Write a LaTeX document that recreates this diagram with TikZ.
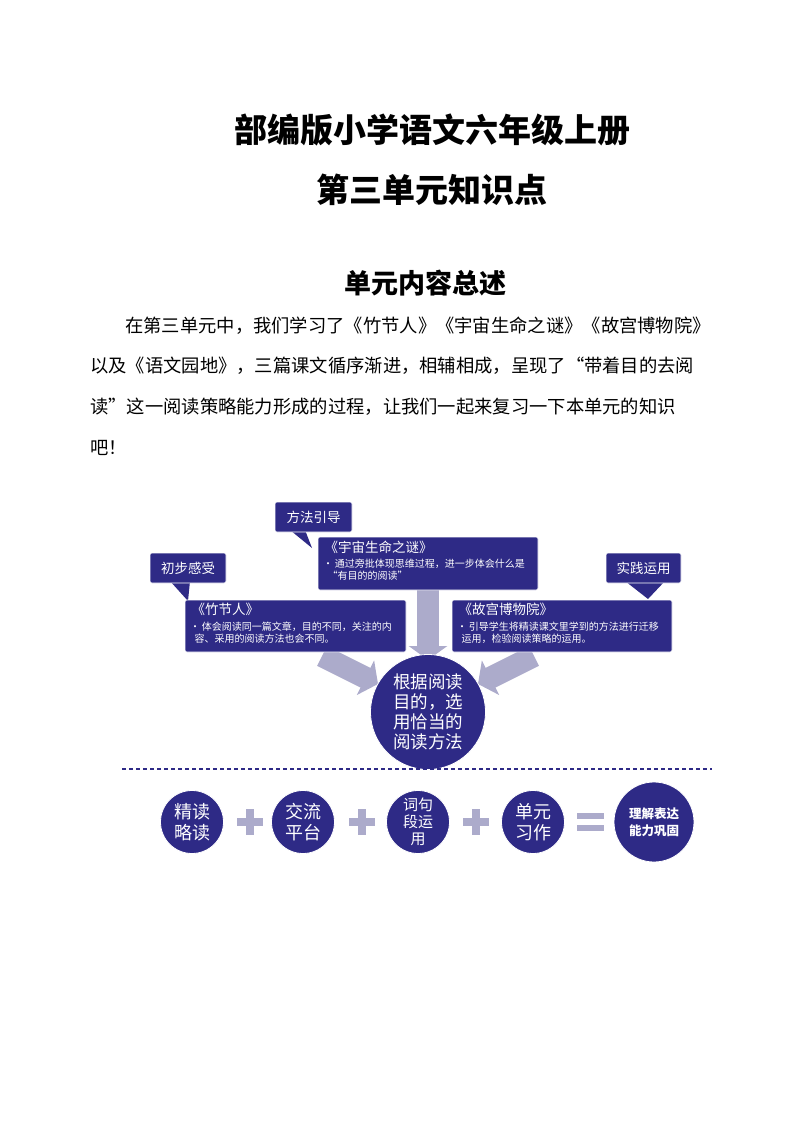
\documentclass[tikz,border=0pt]{standalone}
\usepackage{fontspec}
\setmainfont{Liberation Serif}
\newfontfamily\cjk{Noto Sans CJK SC}
\newfontfamily\cjkb{Noto Sans CJK SC Black}
\usetikzlibrary{arrows.meta}
\definecolor{navy}{HTML}{2E2A86}
\definecolor{lav}{HTML}{ACABCB}
\tikzset{
  x=1pt,y=-1pt,
  box/.style={fill=navy,rounded corners=2pt,draw=white,line width=0.6pt},
  ttl/.style={font=\cjk\fontsize{13.5}{15}\selectfont,text=white,anchor=north west},
  bul/.style={font=\cjk\fontsize{10}{11.5}\selectfont,text=white,anchor=north west,align=left,inner sep=2pt},
  circ/.style={circle,fill=navy,draw=white,line width=0.8pt,text=white,align=center,inner sep=0pt},
  body/.style={font=\cjk\fontsize{18.3}{20}\selectfont,anchor=base west,inner sep=0pt},
  fat/.style={line width=22pt,color=lav,-{Triangle[length=14pt,width=38pt]}},
}
\begin{document}
\begin{tikzpicture}
\useasboundingbox (0,0) rectangle (794,1123);
\node[font=\cjkb\fontsize{33}{36}\selectfont] (t1) at (432,130) {部编版小学语文六年级上册};
\node[font=\cjkb\fontsize{33}{36}\selectfont] (t2) at (432,190) {第三单元知识点};
\node[font=\cjk\bfseries\fontsize{27}{30}\selectfont] (t3) at (425,283) {单元内容总述};
\node[body] (l1) at (125,332) {在第三单元中，我们学习了《竹节人》《宇宙生命之谜》《故宫博物院》};
\node[body] (l2) at (90,372) {以及《语文园地》，三篇课文循序渐进，相辅相成，呈现了“带着目的去阅};
\node[body] (l3) at (90,413) {读”这一阅读策略能力形成的过程，让我们一起来复习一下本单元的知识};
\node[body] (l4) at (90,454) {吧！};

% arrows
\draw[fat] (428,590) -- (428,660);
\draw[fat] (322,656) -- (378,684);
\draw[fat] (534,656) -- (478,684);

% callouts
\fill[navy] (290,530) -- (312,548) -- (305,530) -- cycle;
\draw[box] (275,502) rectangle (352,532);
\node[ttl,anchor=center] (c1) at (313.5,517) {方法引导};
\fill[navy] (170,581) -- (188,601) -- (190,581) -- cycle;
\draw[box] (150,553) rectangle (226,583);
\node[ttl,anchor=center] (c2) at (188,568) {初步感受};
\fill[navy] (625,581) -- (648,599) -- (665,581) -- cycle;
\draw[box] (606,553) rectangle (681,583);
\node[ttl,anchor=center] (c3) at (643.5,568) {实践运用};

% boxes
\draw[box] (318,537) rectangle (538,590);
\node[ttl] (b1) at (321,537) {《宇宙生命之谜》};
\node[bul] (b1t) at (321,557) {•\,通过旁批体现思维过程，进一步体会什么是\\\ \ “有目的的阅读”};
\draw[box] (185,600) rectangle (406,652);
\node[ttl] (b2) at (188,600) {《竹节人》};
\node[bul] (b2t) at (188,620) {•\,体会阅读同一篇文章，目的不同，关注的内\\\ \ 容、采用的阅读方法也会不同。};
\draw[box] (452,600) rectangle (672,652);
\node[ttl] (b3) at (455,600) {《故宫博物院》};
\node[bul] (b3t) at (455,620) {•\,引导学生将精读课文里学到的方法进行迁移\\\ \ 运用，检验阅读策略的运用。};

\node[circ,minimum size=115pt,font=\cjk\fontsize{17.5}{20}\selectfont] (m) at (428,712) {根据阅读\\目的，选\\用恰当的\\阅读方法};

\coordinate (d1) at (122,769); \coordinate (d2) at (712,769);
\draw[navy,line width=1.3pt,dash pattern=on 4pt off 3pt] (d1) -- (d2);

\tikzset{bc/.style={circ,minimum size=63pt,font=\cjk\fontsize{18}{21}\selectfont}}
\node[bc] (e1) at (192,822) {精读\\略读};
\node[bc] (e2) at (303,822) {交流\\平台};
\node[bc,font=\cjk\fontsize{15}{17}\selectfont] (e3) at (418,822) {词句\\段运\\用};
\node[bc] (e4) at (533,822) {单元\\习作};
\node[circ,minimum size=80pt,font=\cjk\bfseries\fontsize{12.5}{17}\selectfont] (e5) at (654,822) {理解表达\\能力巩固};
\foreach \x in {250,362,476}{
  \fill[lav] (\x-13,818) rectangle (\x+13,826);
  \fill[lav] (\x-4,809) rectangle (\x+4,835);
}
\fill[lav] (577,813) rectangle (604,819);
\fill[lav] (577,825) rectangle (604,831);
\end{tikzpicture}
\end{document}
